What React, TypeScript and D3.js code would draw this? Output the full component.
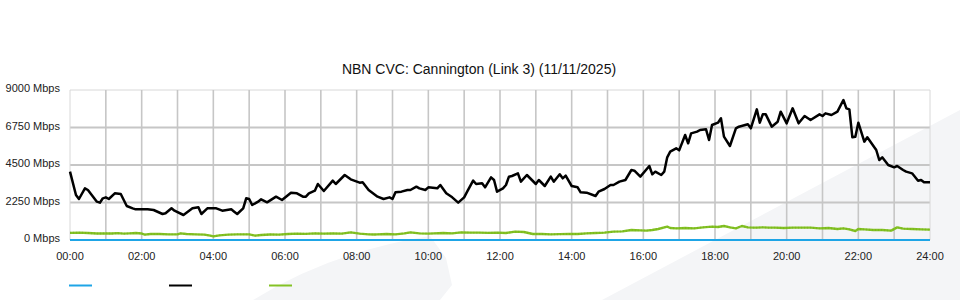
import React from "react";
import * as d3 from "d3";

const TITLE = "NBN CVC: Cannington (Link 3) (11/11/2025)";
const yTicks = [0, 2250, 4500, 6750, 9000];
const xTickLabels = ["00:00", "02:00", "04:00", "06:00", "08:00", "10:00", "12:00", "14:00", "16:00", "18:00", "20:00", "22:00", "24:00"];
const seriesColors = ["#1ea5e6", "#000000", "#84c225"];

// minutes since midnight
const blackTimes = [0, 10, 15, 25, 30, 45, 50, 55, 60, 65, 75, 85, 95, 105, 110, 130, 140, 155, 160, 170, 175, 190, 205, 215, 220, 230, 245, 255, 270, 275, 280, 290, 295, 300, 305, 315, 320, 330, 345, 355, 370, 380, 390, 395, 400, 410, 415, 425, 440, 445, 460, 470, 485, 490, 500, 515, 525, 535, 540, 545, 555, 565, 570, 580, 585, 595, 600, 615, 620, 630, 640, 650, 660, 665, 675, 680, 690, 695, 705, 710, 715, 725, 730, 735, 740, 750, 755, 765, 780, 785, 795, 805, 810, 820, 825, 830, 840, 850, 855, 865, 880, 885, 895, 905, 910, 920, 930, 940, 945, 955, 970, 975, 980, 990, 995, 1000, 1005, 1015, 1020, 1030, 1035, 1040, 1050, 1055, 1065, 1070, 1075, 1085, 1090, 1095, 1105, 1115, 1120, 1135, 1140, 1150, 1155, 1160, 1165, 1175, 1185, 1190, 1200, 1210, 1220, 1230, 1240, 1255, 1260, 1265, 1275, 1285, 1295, 1300, 1305, 1310, 1315, 1320, 1330, 1335, 1350, 1355, 1360, 1370, 1380, 1385, 1395, 1400, 1410, 1420, 1425, 1430, 1440];
const blackValues = [4100, 2700, 2460, 3100, 3000, 2300, 2240, 2500, 2560, 2460, 2800, 2760, 2040, 1900, 1840, 1840, 1800, 1560, 1600, 1900, 1760, 1500, 1900, 1960, 1560, 1900, 1900, 1760, 1840, 1700, 1560, 1900, 2500, 2460, 2100, 2300, 2440, 2260, 2600, 2400, 2840, 2800, 2600, 2600, 2800, 2960, 3360, 2940, 3560, 3360, 3900, 3640, 3440, 3460, 3000, 2600, 2460, 2560, 2460, 2860, 2900, 3000, 3000, 3200, 3100, 3000, 3160, 3100, 3300, 2800, 2560, 2240, 2560, 2900, 3560, 3360, 3400, 3160, 3760, 3600, 2900, 3100, 3300, 3800, 3840, 4000, 3500, 3900, 3360, 3600, 3240, 3800, 3500, 3940, 3700, 3860, 3240, 3160, 2860, 2840, 2640, 2900, 3060, 3300, 3300, 3500, 3600, 4200, 4160, 3800, 4440, 3940, 4100, 3900, 4100, 4960, 5300, 5500, 5380, 6300, 5800, 6400, 6500, 6600, 6640, 6000, 6900, 7040, 7300, 6200, 5640, 6700, 6800, 6940, 6700, 7840, 7040, 7540, 7540, 6800, 7100, 7700, 7000, 7900, 7000, 7440, 7200, 7540, 7440, 7600, 7500, 7700, 8400, 7900, 7840, 6160, 6200, 7040, 5900, 6160, 5400, 4800, 4960, 4500, 4360, 4440, 4200, 4100, 4000, 3560, 3600, 3460, 3460];

const greenTimes = [0, 15, 30, 45, 60, 70, 80, 90, 100, 110, 120, 125, 135, 150, 165, 180, 185, 195, 210, 225, 235, 240, 250, 265, 280, 300, 310, 320, 335, 350, 365, 380, 395, 410, 425, 440, 455, 470, 485, 500, 510, 515, 530, 545, 560, 570, 585, 600, 610, 625, 640, 655, 670, 685, 700, 715, 730, 745, 760, 775, 790, 805, 820, 835, 850, 865, 880, 895, 910, 925, 940, 955, 965, 975, 985, 1000, 1005, 1015, 1030, 1045, 1060, 1075, 1085, 1095, 1105, 1115, 1125, 1135, 1145, 1150, 1160, 1170, 1180, 1195, 1210, 1225, 1240, 1255, 1270, 1285, 1295, 1305, 1315, 1320, 1330, 1345, 1360, 1375, 1385, 1395, 1410, 1425, 1440];
const greenValues = [430, 440, 420, 390, 400, 390, 410, 380, 400, 420, 390, 320, 360, 360, 340, 340, 400, 360, 340, 320, 260, 220, 280, 320, 340, 340, 260, 300, 330, 320, 360, 380, 370, 400, 380, 400, 380, 460, 380, 340, 330, 340, 360, 340, 400, 460, 400, 380, 400, 420, 400, 460, 440, 440, 430, 440, 420, 500, 480, 360, 360, 340, 350, 360, 360, 400, 420, 440, 500, 520, 600, 580, 560, 600, 660, 800, 720, 700, 720, 700, 760, 800, 780, 840, 760, 700, 840, 760, 740, 740, 760, 740, 740, 720, 740, 740, 740, 700, 720, 660, 700, 640, 540, 660, 640, 600, 600, 560, 760, 680, 660, 640, 620];

const blueTimes = [0, 1440];
const blueValues = [0, 0];

const legendIdx = [0, 1, 2];

export default function App() {
  const W = 960, H = 300;
  const x = d3.scaleLinear().domain([0, 1440]).range([70, 930]);
  const y = d3.scaleLinear().domain([0, 9000]).range([240, 90]);
  const line = d3
    .line<[number, number]>()
    .x((d) => x(d[0]))
    .y((d) => y(d[1]));
  const blackPts = blackTimes.map((t, i) => [t, blackValues[i]] as [number, number]);
  const greenPts = greenTimes.map((t, i) => [t, greenValues[i]] as [number, number]);
  const bluePts = blueTimes.map((t, i) => [t, blueValues[i]] as [number, number]);
  const hours = d3.range(0, 25).map((h) => h * 60);
  const font = "'Liberation Sans', Arial, sans-serif";

  return (
    <div style={{ position: "absolute", left: 0, top: 0, width: W, height: H, background: "#fff" }}>
      <svg width={W} height={H} style={{ display: "block" }}>
        {/* watermark */}
        <path d="M253,300 Q330,252 430,236 L446,258 L452,285 L440,300 Z" fill="#f4f5f7" />
        <path d="M602,300 L960,110 L960,300 Z" fill="#f4f5f7" />
        {/* grid */}
        {yTicks.map((v) => (
          <line
            key={"h" + v}
            x1={70}
            x2={930}
            y1={y(v)}
            y2={y(v)}
            stroke={v === 9000 || v === 0 ? "#d8d8d8" : "#c6c6c6"}
            strokeWidth={v === 9000 || v === 0 ? 1 : 2}
          />
        ))}
        {hours.map((m) => (
          <line
            key={"v" + m}
            x1={x(m)}
            x2={x(m)}
            y1={90}
            y2={240}
            stroke={m === 0 || m === 1440 ? "#d8d8d8" : "#c6c6c6"}
            strokeWidth={m === 0 || m === 1440 ? 1 : 1.6}
          />
        ))}
        {/* y labels */}
        {yTicks.map((v) => (
          <text key={"yl" + v} x={60} y={y(v) + 2} textAnchor="end" fontFamily={font} fontSize={11} fill="#222">
            {v + " Mbps"}
          </text>
        ))}
        {/* x labels */}
        {xTickLabels.map((l, i) => (
          <text key={"xl" + l} x={x(i * 120)} y={260} textAnchor="middle" fontFamily={font} fontSize={11} fill="#222">
            {l}
          </text>
        ))}
        {/* series */}
        <path d={line(greenPts) || ""} fill="none" stroke={seriesColors[2]} strokeWidth={2.4} strokeLinejoin="round" />
        <path d={line(greenPts) || ""} fill="none" stroke="#6fae14" strokeWidth={2} strokeDasharray="1 2" opacity={0.45} />
        <path d={line(bluePts) || ""} fill="none" stroke={seriesColors[0]} strokeWidth={2.2} />
        <path d={line(blackPts) || ""} fill="none" stroke={seriesColors[1]} strokeWidth={2.5} strokeLinejoin="round" />
        {/* title */}
        <text x={479} y={74} textAnchor="middle" fontFamily={font} fontSize={14} fill="#111">
          {TITLE}
        </text>
        {/* legend */}
        {legendIdx.map((i) => (
          <line key={"lg" + i} x1={69 + i * 100} x2={92 + i * 100} y1={285.5} y2={285.5} stroke={seriesColors[i]} strokeWidth={2} />
        ))}
      </svg>
    </div>
  );
}
